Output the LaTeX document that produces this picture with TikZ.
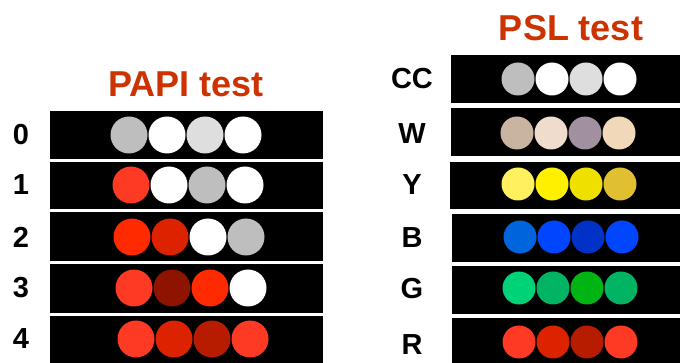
\documentclass[tikz,border=0pt]{standalone}
\usepackage{fontspec}
\setmainfont{Liberation Sans}
\usepackage{tikz}
\definecolor{title}{RGB}{204,51,0}
\definecolor{Gy}{RGB}{190,190,190}
\definecolor{Lg}{RGB}{222,222,222}
\definecolor{Wh}{RGB}{255,255,255}
\definecolor{R1}{RGB}{255,58,36}
\definecolor{R2}{RGB}{255,42,0}
\definecolor{R3}{RGB}{221,34,0}
\definecolor{R4}{RGB}{184,28,0}
\definecolor{R5}{RGB}{142,20,0}
\definecolor{W1}{RGB}{200,180,160}
\definecolor{W2}{RGB}{240,220,204}
\definecolor{W3}{RGB}{160,144,160}
\definecolor{W4}{RGB}{240,216,184}
\definecolor{Y1}{RGB}{255,240,96}
\definecolor{Y2}{RGB}{255,240,0}
\definecolor{Y3}{RGB}{240,224,0}
\definecolor{Y4}{RGB}{224,192,48}
\definecolor{B1}{RGB}{0,100,220}
\definecolor{B2}{RGB}{0,70,255}
\definecolor{B3}{RGB}{0,50,200}
\definecolor{G1}{RGB}{0,210,120}
\definecolor{G2}{RGB}{0,180,100}
\definecolor{G3}{RGB}{0,180,20}
\newcommand{\drawbar}[4]{\fill[black] (#1,#2) rectangle (#3,#4);}
\newcommand{\drawlamps}[5]{
    \foreach \c [count=\i from 0] in {#5}{
    \fill[\c] (#1+\i*#3,#2) circle (#4);
    }
}
\tikzset{
  ttl/.style={text=title,inner sep=0pt,font=\bfseries\fontsize{36}{40}\selectfont},
  lbl/.style={inner sep=0pt,font=\bfseries\fontsize{29}{32}\selectfont}
}

\begin{document}
\begin{tikzpicture}[x=1pt,y=-1pt]
\useasboundingbox[fill=white] (0,0) rectangle (680,363);
% PAPI test
\node[ttl] (papi) at (186,84) {PAPI test};
\drawbar{50}{111}{323}{159}\drawlamps{129}{135}{38}{18.5}{Gy,Wh,Lg,Wh}
\drawbar{50}{162}{323}{209}\drawlamps{131}{185}{38}{18.5}{R1,Wh,Gy,Wh}
\drawbar{50}{212}{323}{261}\drawlamps{132}{237}{38}{18.5}{R2,R3,Wh,Gy}
\drawbar{50}{264}{323}{313}\drawlamps{134}{288}{38}{18.5}{R1,R5,R2,Wh}
\drawbar{50}{316}{323}{363}\drawlamps{136}{339}{38}{18.5}{R1,R3,R4,R1}
\node[lbl] (p0) at (21,135) {0};
\node[lbl] (p1) at (21,185) {1};
\node[lbl] (p2) at (21,237) {2};
\node[lbl] (p3) at (21,288) {3};
\node[lbl] (p4) at (21,339) {4};
% PSL test
\node[ttl] (psl) at (571,28) {PSL test};
\drawbar{451}{55}{680}{103}\drawlamps{518}{79}{34}{16.5}{Gy,Wh,Lg,Wh}
\drawbar{451}{108}{680}{156}\drawlamps{517}{133}{34}{16.5}{W1,W2,W3,W4}
\drawbar{450}{162}{680}{209}\drawlamps{518}{184}{34}{16.5}{Y1,Y2,Y3,Y4}
\drawbar{452}{214}{680}{262}\drawlamps{520}{237}{34}{16.5}{B1,B2,B3,B2}
\drawbar{452}{266}{680}{314}\drawlamps{519}{288}{34}{16.5}{G1,G2,G3,G2}
\drawbar{452}{318}{680}{363}\drawlamps{519}{342}{34}{16.5}{R1,R3,R4,R1}
\node[lbl] (cc) at (412,79) {CC};
\node[lbl] (w) at (412,134) {W};
\node[lbl] (y) at (412,185) {Y};
\node[lbl] (b) at (412,238) {B};
\node[lbl] (g) at (412,289) {G};
\node[lbl] (r) at (412,345) {R};
\end{tikzpicture}
\end{document}
